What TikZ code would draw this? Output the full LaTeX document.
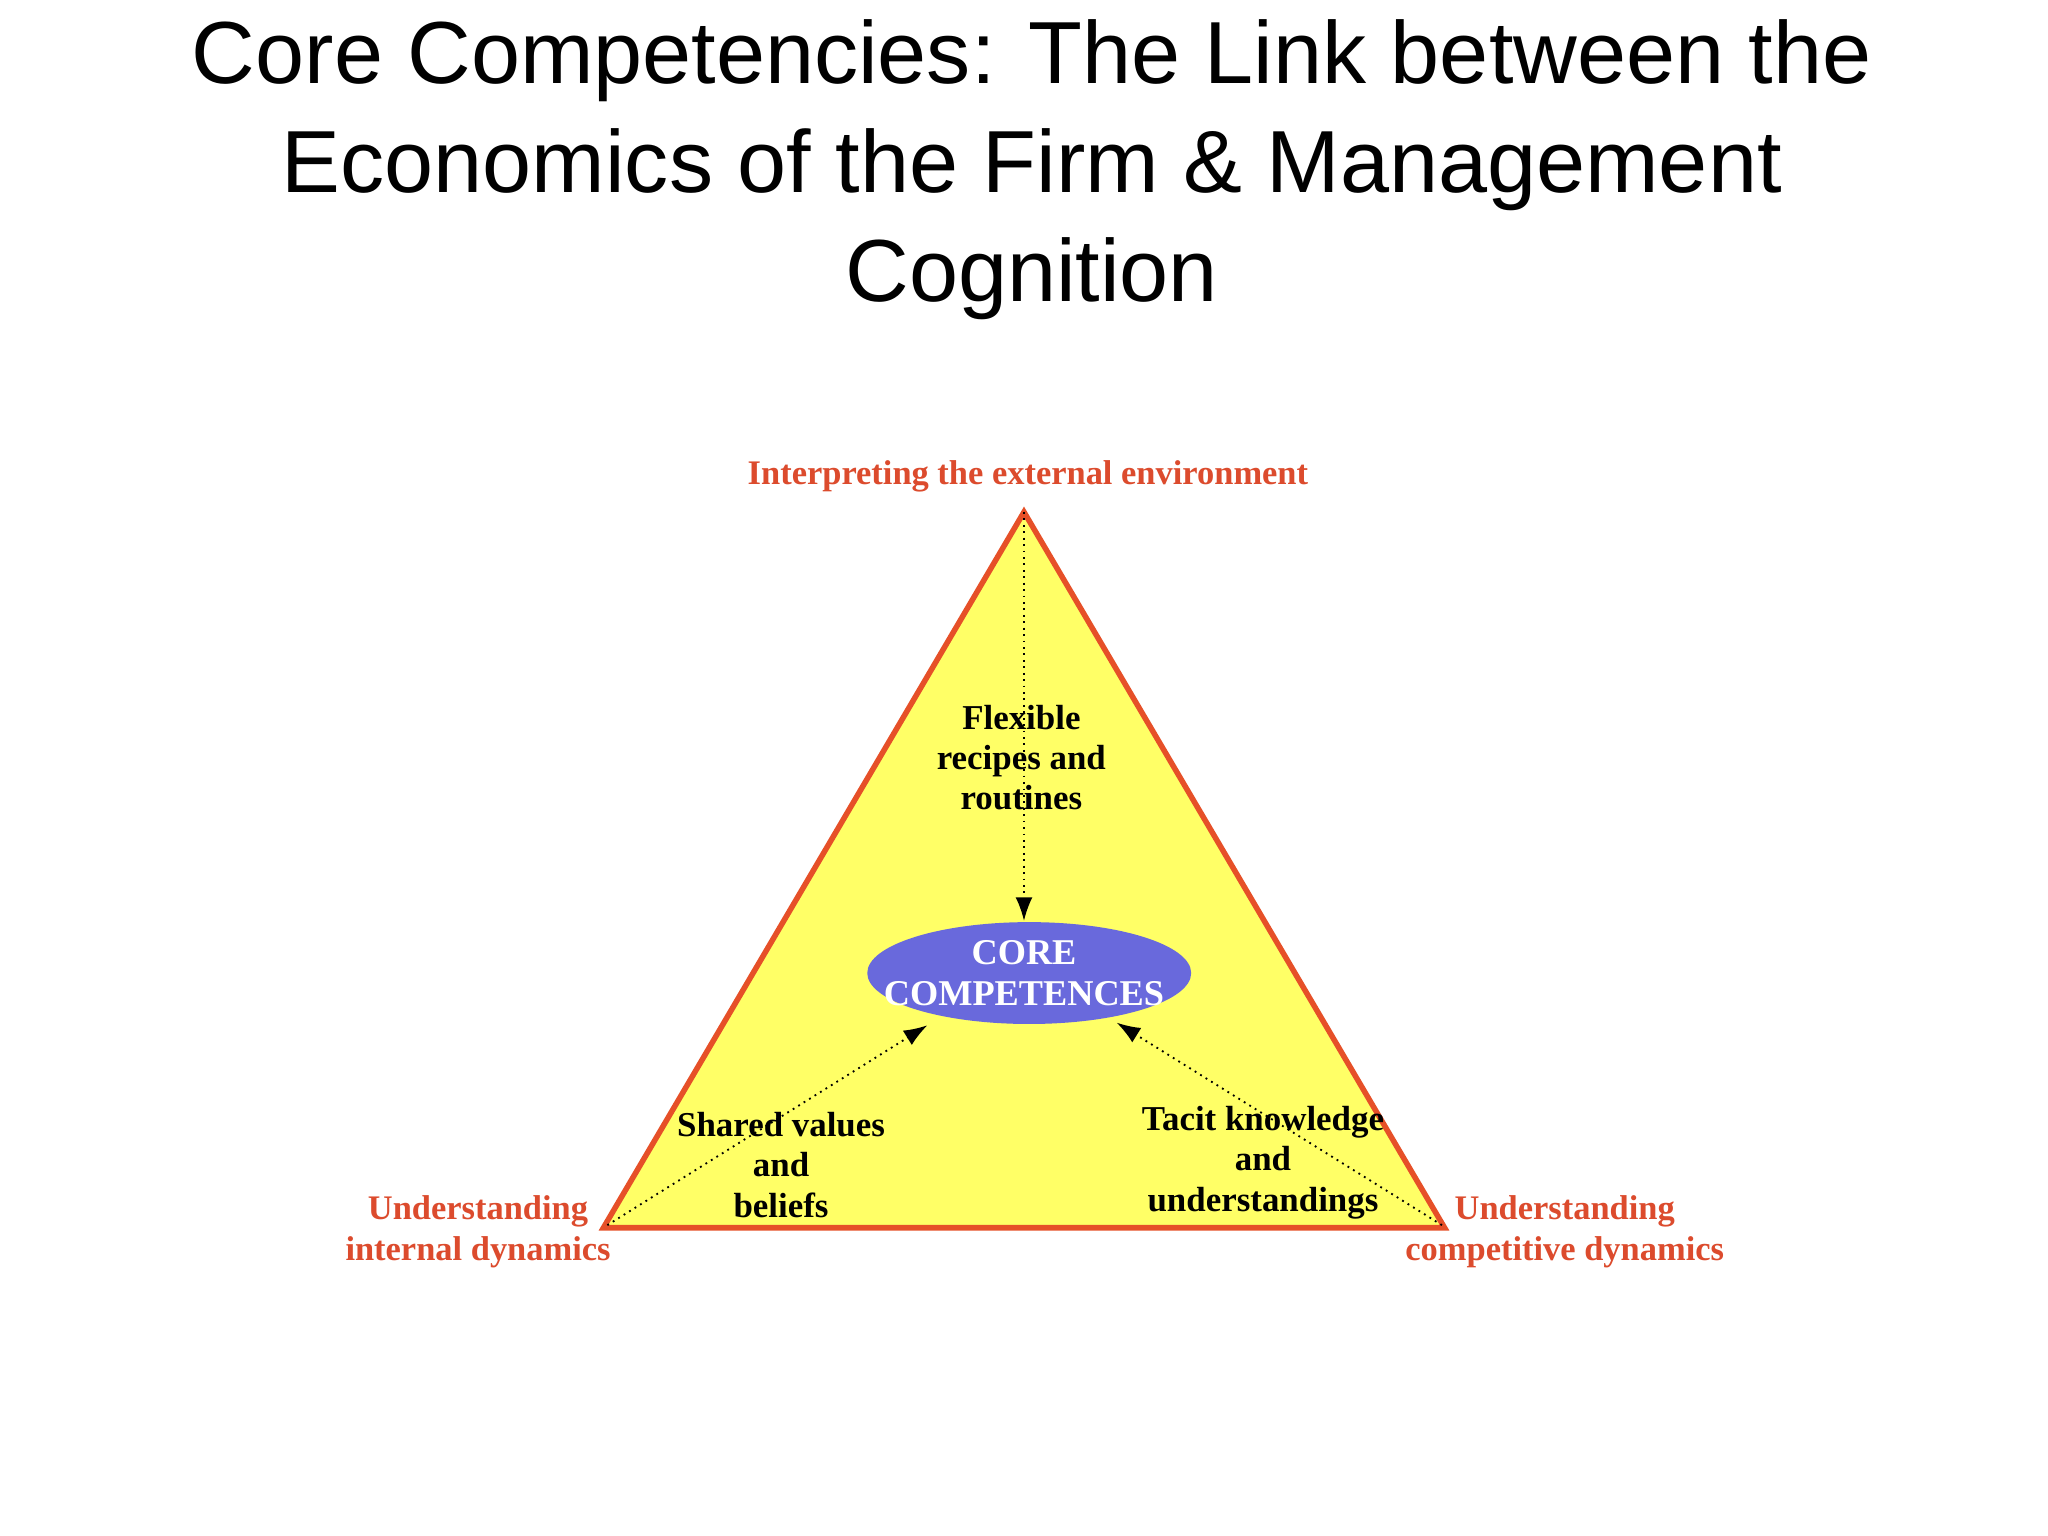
\documentclass[tikz,border=0pt]{standalone}
\usepackage{fontspec}
\setmainfont{Liberation Serif}
\newfontfamily\titlefont{Liberation Sans}
\usetikzlibrary{shapes.geometric,arrows.meta}
\definecolor{tri}{RGB}{255,255,102}
\definecolor{edge}{RGB}{230,80,40}
\definecolor{lab}{RGB}{220,75,45}
\definecolor{ell}{RGB}{105,105,220}
\tikzset{
 redlab/.style={text=lab,font=\bfseries\fontsize{7.5}{9}\selectfont,align=center},
 blklab/.style={text=black,font=\bfseries\fontsize{7.6}{8.8}\selectfont,align=center},
 darr/.style={densely dotted,thin,-{Latex[length=1.8mm,width=1.3mm]}}
}
\begin{document}
\begin{tikzpicture}[x=0.01cm,y=-0.01cm]
\useasboundingbox[fill=white] (0,0) rectangle (1568,1176);
\node[font=\titlefont\fontsize{19.2}{23.8}\selectfont,align=center] (title) at (790,130)
 {Core Competencies: The Link between the\\Economics of the Firm \& Management\\Cognition};
\coordinate (A) at (784,392);
\coordinate (L) at (462,940);
\coordinate (R) at (1106,940);
\draw[edge,fill=tri,line width=1.2pt] (A) -- (L) -- (R) -- cycle;
\fill[ell] (788,745) ellipse [x radius=124, y radius=39];
\node[inner sep=0pt,text=white,
 font=\bfseries\fontsize{7.9}{8.8}\selectfont,align=center] (core) at (784,745) {CORE\\COMPETENCES};
\coordinate (Ct) at (784,705);
\coordinate (Ls) at (465,938);
\coordinate (Rs) at (1104,938);
\coordinate (Lt) at (710,785);
\coordinate (Rt) at (855,783);
\draw[darr] (A) -- (Ct);
\draw[darr] (Ls) -- (Lt);
\draw[darr] (Rs) -- (Rt);
\node[redlab] (top) at (787,365) {Interpreting the external environment};
\node[redlab] (lft) at (366,943) {Understanding\\internal dynamics};
\node[redlab] (rgt) at (1198,943) {Understanding\\competitive dynamics};
\node[blklab] (flex) at (782,580) {Flexible\\recipes and\\routines};
\node[blklab] (shared) at (598,892) {Shared values\\and\\beliefs};
\node[blklab] (tacit) at (967,890) {Tacit knowledge\\and\\understandings};
\end{tikzpicture}
\end{document}
